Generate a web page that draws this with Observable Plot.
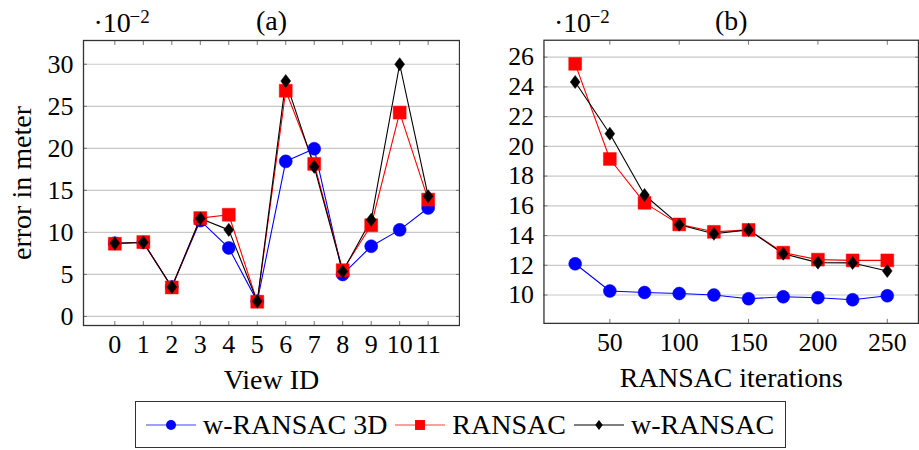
<!DOCTYPE html>
<html><head><meta charset="utf-8">
<script src="https://cdn.jsdelivr.net/npm/d3@7"></script>
<script src="https://cdn.jsdelivr.net/npm/@observablehq/plot@0.6"></script>
<style>
html,body{margin:0;padding:0;background:#fff;overflow:hidden;}
#wrap{position:relative;width:919px;height:450px;overflow:hidden;font-family:"Liberation Serif",serif;}
#pa{position:absolute;left:0;top:0;}
#pb{position:absolute;left:460px;top:0;}
#wrap svg text{font-family:"Liberation Serif",serif !important;}
#legend{position:absolute;left:135px;top:401px;display:flex;align-items:center;font-size:28px;color:#000;border:1.3px solid #333;padding-left:10px;box-sizing:border-box;width:651px;height:47px;}
.item{display:flex;align-items:center;white-space:nowrap;}
.sw{width:50px;height:20px;margin:0 7px 0 0;display:block;}
.item + .item .sw{margin-left:8px;}
</style></head><body>
<div id="wrap"><div id="pa"></div><div id="pb"></div><div id="legend"></div></div>
<script>
// ---- data ----
const seriesNames = ["w-RANSAC 3D", "RANSAC", "w-RANSAC"];

// panel (a)
const viewIds = [0, 1, 2, 3, 4, 5, 6, 7, 8, 9, 10, 11];
const aW3D    = [8.7, 8.8, 3.5, 11.4, 8.15, 1.8, 18.45, 19.95, 5.0, 8.35, 10.3, 12.9];
const aRansac = [8.65, 8.85, 3.45, 11.7, 12.1, 1.75, 26.85, 18.15, 5.5, 10.85, 24.25, 13.9];
const aW      = [8.7, 8.8, 3.5, 11.65, 10.3, 1.8, 28.0, 17.8, 5.35, 11.5, 30.0, 14.3];
const aXTicks = [0, 1, 2, 3, 4, 5, 6, 7, 8, 9, 10, 11];
const aYTicks = [0, 5, 10, 15, 20, 25, 30];

// panel (b)
const iterations = [25, 50, 75, 100, 125, 150, 175, 200, 225, 250];
const bW3D    = [12.1, 10.27, 10.17, 10.1, 10.0, 9.75, 9.88, 9.82, 9.68, 9.95];
const bRansac = [25.55, 19.15, 16.2, 14.75, 14.25, 14.38, 12.85, 12.38, 12.33, 12.33];
const bW      = [24.33, 20.85, 16.73, 14.73, 14.12, 14.38, 12.78, 12.18, 12.16, 11.62];
const bXTicks = [50, 100, 150, 200, 250];
const bYTicks = [10, 12, 14, 16, 18, 20, 22, 24, 26];

// ---- styling ----
const FONT = "Liberation Serif, serif";
const diamond = {
  draw(context, size) {
    const r = Math.sqrt(size / Math.PI);
    const w = r * 0.75;
    context.moveTo(0, -r);
    context.lineTo(w, 0);
    context.lineTo(0, r);
    context.lineTo(-w, 0);
    context.closePath();
  }
};
const styles = [
  {color: "#0000ff", symbol: "circle", r: 6.5},
  {color: "#ff0000", symbol: "square", r: 7.3},
  {color: "#000000", symbol: diamond, r: 6.6}
];

function enlarge(values) {
  const [lo, hi] = d3.extent(values);
  const p = (hi - lo) * 0.1;
  return [lo - p, hi + p];
}

function panel({xs, ys, xTicks, yTicks, xLabel, yLabel, title, width, marginLeft}) {
  const marks = [];
  marks.push(Plot.gridY(yTicks, {stroke: "#c8c8c8", strokeOpacity: 1, strokeWidth: 1.2}));
  ys.forEach((vals, k) => {
    const data = vals.map((v, i) => ({x: xs[i], y: v}));
    const st = styles[k];
    marks.push(Plot.line(data, {x: "x", y: "y", stroke: st.color, strokeWidth: 1.1}));
  });
  ys.forEach((vals, k) => {
    const data = vals.map((v, i) => ({x: xs[i], y: v}));
    const st = styles[k];
    marks.push(Plot.dot(data, {x: "x", y: "y", symbol: st.symbol, r: st.r, fill: st.color, stroke: st.color, strokeWidth: 0.5}));
  });
  marks.push(Plot.axisX({ticks: xTicks, anchor: "bottom", tickSize: -4, tickPadding: 13, stroke: "#777", label: null, fontSize: 26, fontFamily: FONT}));
  marks.push(Plot.axisX({ticks: xTicks, anchor: "top", tickSize: -4, tickFormat: () => "", stroke: "#777", label: null}));
  marks.push(Plot.axisY({ticks: yTicks, anchor: "left", tickSize: -4, tickPadding: 14, stroke: "#777", label: null, fontSize: 26, fontFamily: FONT}));
  marks.push(Plot.axisY({ticks: yTicks, anchor: "right", tickSize: -4, tickFormat: () => "", stroke: "#777", label: null}));
  marks.push(Plot.frame({stroke: "#333", strokeWidth: 1.3}));
  marks.push(Plot.text([xLabel], {frameAnchor: "bottom", lineAnchor: "middle", textAnchor: "middle", dy: 55, fontSize: 28, fontFamily: FONT, text: d => d}));
  if (yLabel) marks.push(Plot.text([yLabel], {frameAnchor: "left", lineAnchor: "middle", textAnchor: "middle", dx: -61, rotate: -90, fontSize: 28, fontFamily: FONT, text: d => d}));
  marks.push(Plot.text([title], {frameAnchor: "top", lineAnchor: "middle", textAnchor: "middle", dy: -19.3, fontSize: 28, fontFamily: FONT, text: d => d}));
  marks.push(Plot.text(["·10"], {frameAnchor: "top-left", lineAnchor: "middle", textAnchor: "start", dx: 10, dy: -17.6, fontSize: 28, fontFamily: FONT, text: d => d}));
  marks.push(Plot.text(["−2"], {frameAnchor: "top-left", lineAnchor: "middle", textAnchor: "start", dx: 46, dy: -23.5, fontSize: 19, fontFamily: FONT, text: d => d}));
  return Plot.plot({
    width, height: 395,
    marginLeft, marginRight: 1, marginTop: 40, marginBottom: 70,
    style: {fontFamily: FONT, fontSize: "26px", background: "#fff", overflow: "visible"},
    x: {type: "linear", domain: enlarge(xs), label: null},
    y: {type: "linear", domain: enlarge(ys.flat()), label: null},
    marks
  });
}

document.getElementById("pa").appendChild(panel({
  xs: viewIds, ys: [aW3D, aRansac, aW], xTicks: aXTicks, yTicks: aYTicks,
  xLabel: "View ID", yLabel: "error in meter", title: "(a)", width: 460, marginLeft: 83
}));
document.getElementById("pb").appendChild(panel({
  xs: iterations, ys: [bW3D, bRansac, bW], xTicks: bXTicks, yTicks: bYTicks,
  xLabel: "RANSAC iterations", yLabel: null, title: "(b)", width: 462, marginLeft: 84
}));

// legend
const legend = document.getElementById("legend");
seriesNames.forEach((name, k) => {
  const st = styles[k];
  const item = document.createElement("div");
  item.className = "item";
  const ns = "http://www.w3.org/2000/svg";
  const svg = document.createElementNS(ns, "svg");
  svg.setAttribute("class", "sw");
  svg.setAttribute("width", 50); svg.setAttribute("height", 20);
  const line = document.createElementNS(ns, "line");
  line.setAttribute("x1", 0); line.setAttribute("x2", 50);
  line.setAttribute("y1", 10); line.setAttribute("y2", 10);
  line.setAttribute("stroke", st.color); line.setAttribute("stroke-width", 1.1);
  line.setAttribute("stroke-opacity", k === 2 ? 1 : 0.75);
  svg.appendChild(line);
  const sym = typeof st.symbol === "string" ? (st.symbol === "circle" ? d3.symbolCircle : d3.symbolSquare) : st.symbol;
  const size = k === 0 ? Math.PI * 5 * 5 : k === 1 ? Math.PI * 5.6 * 5.6 : Math.PI * 5 * 5;
  const p = document.createElementNS(ns, "path");
  p.setAttribute("d", d3.symbol(sym, size)());
  p.setAttribute("transform", "translate(25,10)");
  p.setAttribute("fill", st.color);
  svg.appendChild(p);
  const span = document.createElement("span");
  span.textContent = name;
  item.appendChild(svg);
  item.appendChild(span);
  legend.appendChild(item);
});
</script>
</body></html>
